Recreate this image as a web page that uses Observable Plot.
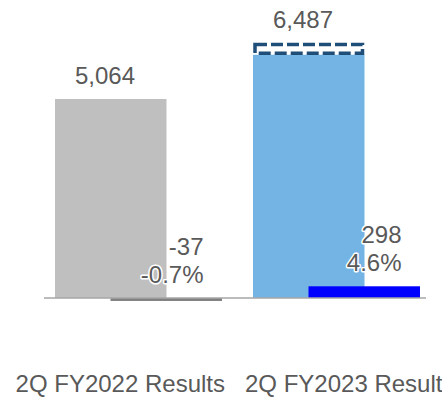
<!DOCTYPE html>
<html><head><meta charset="utf-8">
<script src="https://cdn.jsdelivr.net/npm/d3@7"></script>
<script src="https://cdn.jsdelivr.net/npm/@observablehq/plot@0.6"></script>
<style>html,body{margin:0;padding:0;background:#fff;overflow:hidden}</style>
</head><body><div id="chart"></div>
<script>
const categories = ["2Q FY2022 Results", "2Q FY2023 Results"];
const totals = [5064, 6487];
const changes = [-37, 298];
const totalLabels = ["5,064", "6,487"];
const changeLabels = ["-37", "298"];
const changePcts = ["-0.7%", "4.6%"];
const mainColors = ["#BFBFBF", "#74B4E4"];
const changeColors = ["#7F7F7F", "#0000FF"];

const rows = categories.map((c, i) => ({
  cat: c,
  total: totals[i],
  change: changes[i],
  base: changes[i] > 0 ? totals[i] - changes[i] : totals[i],
  totalLabel: totalLabels[i],
  changeText: changeLabels[i] + "\n" + changePcts[i],
  mainColor: mainColors[i],
  changeColor: changeColors[i]
}));
const pos = rows.filter(d => d.change > 0);
const neg = rows.filter(d => d.change < 0);

const axisStyle = {tickSize: 0, tickPadding: 76, fontSize: 24, color: "#595959", label: null};

const chart = Plot.plot({
  width: 442, height: 397,
  marginTop: 0, marginBottom: 99, marginLeft: 44, marginRight: 16,
  style: {fontFamily: "'Liberation Sans', Arial, sans-serif", background: "#fff", overflow: "visible"},
  x: {domain: categories, paddingInner: 0.159, paddingOuter: 0.044, align: 0.63, label: null, axis: null},
  y: {domain: [0, 7583], axis: null},
  color: {type: "identity"},
  marks: [
    Plot.barY(rows, {x: "cat", y: "base", fill: "mainColor", insetRight: 55.5}),
    Plot.barY(pos, {x: "cat", y1: "base", y2: "total", fill: "none", stroke: "#1F4E79", strokeWidth: 3.5,
      strokeDasharray: "12,4", insetLeft: 2, insetRight: 57.5, insetTop: 1.5, insetBottom: 1.5}),
    Plot.barY(pos, {x: "cat", y: "change", fill: "changeColor", insetLeft: 55.5}),
    Plot.barY(neg, {x: "cat", y: "change", fill: "changeColor", insetLeft: 55.5, insetBottom: -1.5}),
    Plot.ruleY([0], {stroke: "#A6A6A6", strokeWidth: 1.5, dy: -0.5}),
    Plot.text(rows, {x: "cat", y: "total", text: "totalLabel", dx: -34, dy: -15.5, lineAnchor: "bottom",
      fontSize: 24, fill: "#595959"}),
    Plot.text(rows, {x: "cat", y: d => Math.max(0, d.change), text: "changeText", textAnchor: "end",
      dx: 64.5, dy: -15.5, lineAnchor: "bottom", lineHeight: 1.17, fontSize: 24, fill: "#595959",
      stroke: "white", strokeWidth: 3, paintOrder: "stroke"}),
    Plot.axisX([categories[0]], {...axisStyle, textAnchor: "end", dx: 86}),
    Plot.axisX([categories[1]], {...axisStyle, textAnchor: "start", dx: -92})
  ]
});
document.getElementById("chart").appendChild(chart);
</script>
</body></html>
